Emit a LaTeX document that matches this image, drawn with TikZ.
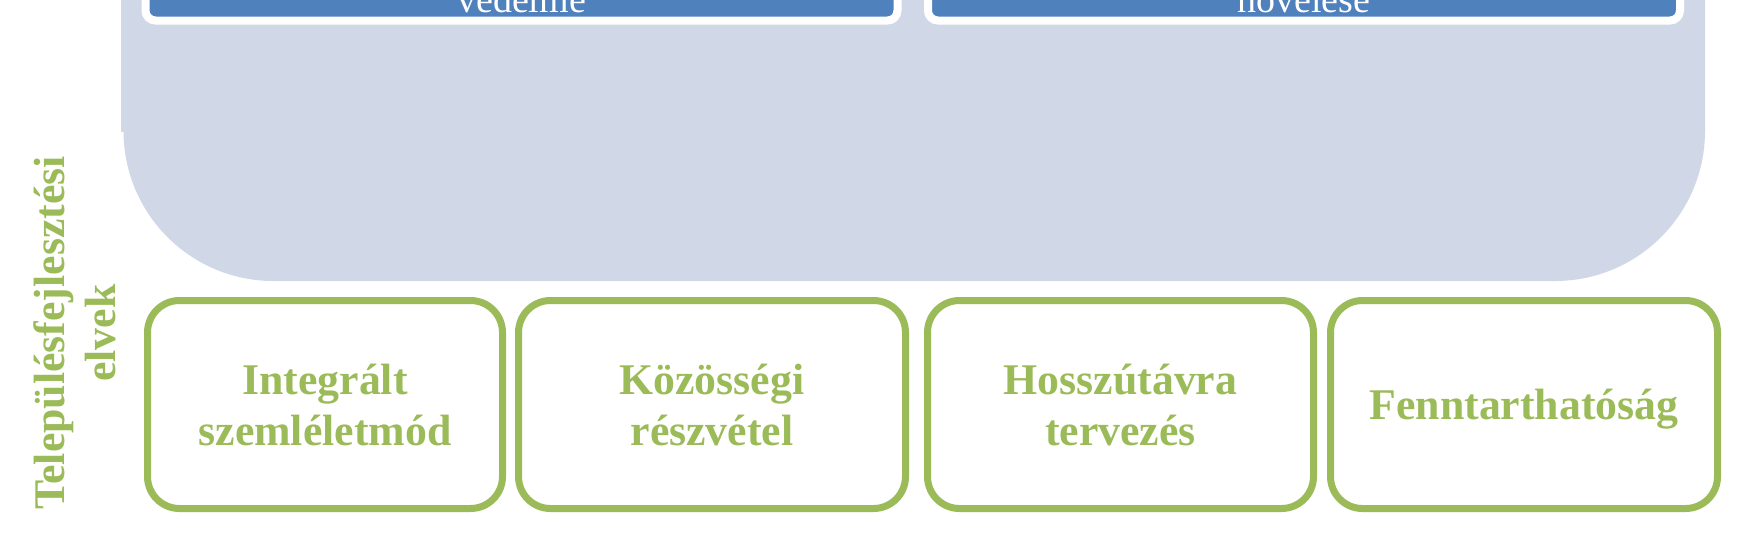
\documentclass[tikz,border=0pt]{standalone}
\usepackage{fontspec}
\setmainfont{Liberation Serif}
\definecolor{hatter}{HTML}{D0D8E8}
\definecolor{kek}{HTML}{4F81BD}
\definecolor{zold}{HTML}{9BBB59}
\begin{document}
\begin{tikzpicture}[x=0.5pt,y=-0.5pt]
  \tikzstyle{elv}=[draw=zold,line width=3.5pt,rounded corners=16pt,minimum height=104pt,text=zold,align=center,font=\fontsize{21.9pt}{25.5pt}\selectfont\bfseries]
  \tikzstyle{cel}=[fill=kek,draw=white,line width=4pt,rounded corners=5pt]
  \tikzstyle{celszoveg}=[text=white,anchor=base,inner sep=0pt,font=\fontsize{19pt}{22pt}\selectfont]
  \useasboundingbox (0,0) rectangle (1761,543);
  % hatter
  \fill[hatter] (121,-20) rectangle (200,132);
  \fill[hatter,rounded corners=75pt] (123.5,-300) -- (123.5,281) -- (1705,281) -- (1705,-300) -- cycle;
  % kek dobozok
  \draw[cel] (145.5,-60) rectangle (897.5,20.5);
  \draw[cel] (928,-60) rectangle (1680,20.5);
  \node[celszoveg] (vedelme) at (521.5,12.5) {védelme};
  \node[celszoveg] (novelese) at (1304,12.5) {növelése};
  % fuggoleges felirat
  \node[rotate=90,text=zold,align=center,font=\fontsize{21.9pt}{25.5pt}\selectfont\bfseries] (elvek) at (75,333) {Településfejlesztési\\elvek};
  % elvek
  \node[elv,minimum width=177.5pt] (integralt) at (325,404.5) {Integrált\\szemléletmód};
  \node[elv,minimum width=193.5pt] (kozossegi) at (712,404.5) {Közösségi\\részvétel};
  \node[elv,minimum width=193pt] (hosszutavra) at (1120.5,404.5) {Hosszútávra\\tervezés};
  \node[elv,minimum width=193.5pt,text depth=0pt] (fenntarthatosag) at (1524,404.5) {Fenntarthatóság};
\end{tikzpicture}
\end{document}
